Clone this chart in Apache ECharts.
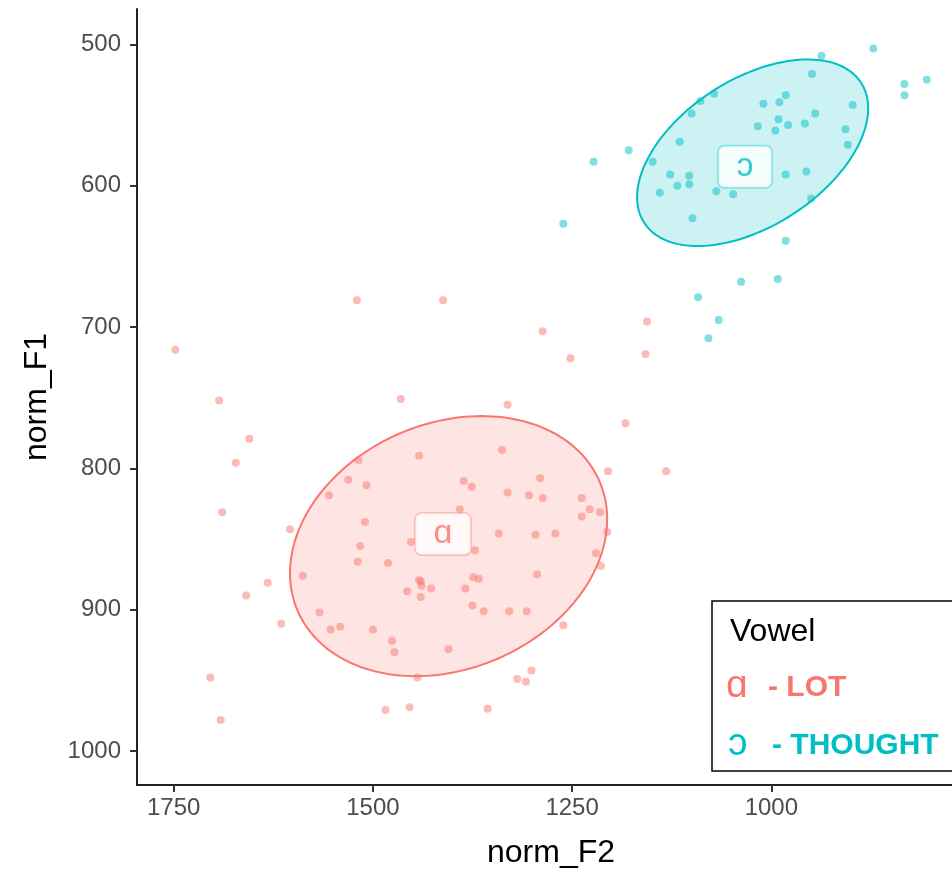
<!DOCTYPE html>
<html>
<head>
<meta charset="utf-8">
<script src="https://cdn.jsdelivr.net/npm/echarts@6/dist/echarts.min.js"></script>
<style>
  html, body { margin: 0; padding: 0; background: #ffffff; }
  #chart { width: 952px; height: 869px; }
</style>
</head>
<body>
<div id="chart"></div>
<script>
// Vowel categories
const vowelSymbols = ['ɑ', 'ɔ'];
const vowelWords = ['LOT', 'THOUGHT'];
const vowelColors = ['#F8766D', '#00BFC4'];

// LOT tokens (normalised F2, F1)
const lotF2 = [1748, 1520, 1412, 1287, 1252, 1693, 1465, 1331, 1183, 1655,
               1672, 1518, 1442, 1338, 1205, 1531, 1508, 1386, 1376, 1290,
               1331, 1304, 1287, 1238, 1555, 1228, 1238, 1215, 1689, 1391,
               1510, 1604, 1342, 1296, 1271, 1206, 1452, 1372, 1516, 1519,
               1481, 1220, 1214, 1588, 1632, 1659, 1440, 1439, 1427, 1457,
               1440, 1374, 1367, 1384, 1294, 1375, 1361, 1329, 1307, 1567,
               1615, 1553, 1541, 1500, 1476, 1473, 1405, 1261, 1444, 1301,
               1319, 1308, 1704, 1691, 1484, 1454, 1356, 1132, 1156, 1158, 1442];
const lotF1 = [716, 681, 681, 703, 722, 752, 751, 755, 768, 779,
               796, 794, 791, 787, 802, 808, 812, 809, 813, 807,
               817, 819, 821, 821, 819, 829, 834, 831, 831, 829,
               838, 843, 846, 847, 846, 845, 852, 858, 855, 866,
               867, 860, 869, 876, 881, 890, 880, 883, 885, 887,
               891, 877, 878, 885, 875, 897, 901, 901, 901, 902,
               910, 914, 912, 914, 922, 930, 928, 911, 948, 943,
               949, 951, 948, 978, 971, 969, 970, 802, 696, 719, 879];

// THOUGHT tokens (normalised F2, F1)
const thoughtF2 = [1223, 1179, 1261, 1115, 1149, 1127, 1103, 1103, 1118, 1140,
                   1069, 1048, 1099, 1089, 1072, 1100, 872, 937, 949, 833,
                   833, 805, 982, 990, 1010, 898, 945, 991, 1017, 995,
                   979, 958, 907, 904, 982, 956, 950, 982, 992, 1038,
                   1092, 1066, 1079];
const thoughtF1 = [583, 575, 627, 569, 583, 592, 593, 599, 600, 605,
                   604, 606, 623, 540, 535, 549, 503, 508, 521, 528,
                   536, 525, 536, 541, 542, 543, 549, 553, 558, 561,
                   557, 556, 560, 571, 592, 590, 609, 639, 666, 668,
                   679, 695, 708];

// Confidence ellipses: centre F2, centre F1, half-extent F2, half-extent F1, coupling
const lotEllipse = [1405, 855, 199, 92, 0.208];
const thoughtEllipse = [1023.5, 576.7, 145, 66, 0.476];

// Vowel means (label positions)
const lotMean = [1412, 846.5];
const thoughtMean = [1033, 586.6];

// Axis ticks
const xTicks = [1000, 1250, 1500, 1750];
const yTicks = [500, 600, 700, 800, 900, 1000];

const FONT = 'Liberation Sans, Arial, Helvetica, sans-serif';

function zip(a, b) { return a.map((v, i) => [v, b[i]]); }

function hexA(hex, a) {
  const n = parseInt(hex.slice(1), 16);
  return 'rgba(' + (n >> 16) + ',' + ((n >> 8) & 255) + ',' + (n & 255) + ',' + a + ')';
}

function ellipseRenderer(color) {
  return function (params, api) {
    const cx = api.value(0), cy = api.value(1);
    const sx = api.value(2), sy = api.value(3);
    const d = Math.acos(api.value(4));
    const pts = [];
    const n = 180;
    for (let i = 0; i < n; i++) {
      const t = i / n * Math.PI * 2;
      pts.push(api.coord([cx + sx * Math.cos(t), cy + sy * Math.cos(t - d)]));
    }
    return {
      type: 'polygon',
      shape: { points: pts },
      style: { fill: hexA(color, 0.2), stroke: color, lineWidth: 2 }
    };
  };
}

function pointSeries(name, data, color) {
  return {
    name: name, type: 'scatter', data: data, symbolSize: 8,
    itemStyle: { color: hexA(color, 0.62) }, z: 2, silent: true
  };
}

function ellipseSeries(params, color) {
  return {
    type: 'custom', data: [params], encode: { x: 0, y: 1 },
    renderItem: ellipseRenderer(color), z: 3, silent: true
  };
}

function labelSeries(mean, sym, color) {
  return {
    type: 'scatter', data: [[mean[0], mean[1], sym]], symbolSize: 0, z: 5, silent: true,
    label: {
      show: true, position: 'inside', formatter: p => p.value[2],
      fontFamily: FONT, fontSize: 34, color: color, lineHeight: 32,
      backgroundColor: '#ffffff', borderColor: hexA(color, 0.45), borderWidth: 1.5,
      borderRadius: 6, padding: [4, 18, 5, 18]
    }
  };
}

// Legend panel
const legendGraphics = [
  { type: 'rect', x: 712, y: 601, shape: { width: 270, height: 170 },
    style: { fill: '#ffffff', stroke: '#000000', lineWidth: 1.5 }, z: 100 },
  { type: 'text', x: 730, y: 632, z: 101,
    style: { text: 'Vowel', fontFamily: FONT, fontSize: 32, fill: '#000000', verticalAlign: 'middle' } }
];
vowelSymbols.forEach((s, i) => {
  const y = 688 + i * 58;
  legendGraphics.push({ type: 'text', x: 726 + i * 2, y: y - 2, z: 101,
    style: { text: s, fontFamily: FONT, fontSize: 39, fill: vowelColors[i], verticalAlign: 'middle' } });
  legendGraphics.push({ type: 'text', x: 768 + i * 4, y: y, z: 101,
    style: { text: '- ' + vowelWords[i], fontFamily: FONT, fontSize: 30, fontWeight: 'bold',
             fill: vowelColors[i], verticalAlign: 'middle' } });
});

const chart = echarts.init(document.getElementById('chart'), null, { renderer: 'canvas' });
chart.setOption({
  animation: false,
  backgroundColor: '#ffffff',
  grid: { left: 137, right: -13, top: 9, bottom: 84, containLabel: false, outerBoundsMode: 'none' },
  xAxis: {
    type: 'value', inverse: true, min: 757, max: 1796,
    name: 'norm_F2', nameLocation: 'middle', nameGap: 52,
    nameTextStyle: { fontFamily: FONT, fontSize: 32, color: '#000000' },
    axisLine: { show: true, onZero: false, lineStyle: { color: '#222222', width: 2 } },
    axisTick: { show: true, length: 7, customValues: xTicks, lineStyle: { color: '#333333', width: 2 } },
    axisLabel: { customValues: xTicks, formatter: v => String(v), fontFamily: FONT, fontSize: 24,
                 color: '#4D4D4D', margin: 11 },
    splitLine: { show: false }
  },
  yAxis: {
    type: 'value', inverse: true, min: 475, max: 1024,
    name: 'norm_F1', nameLocation: 'middle', nameGap: 84, nameRotate: 90,
    nameTextStyle: { fontFamily: FONT, fontSize: 32, color: '#000000' },
    axisLine: { show: true, onZero: false, lineStyle: { color: '#222222', width: 2 } },
    axisTick: { show: true, length: 7, customValues: yTicks, lineStyle: { color: '#333333', width: 2 } },
    axisLabel: { customValues: yTicks, formatter: v => String(v), fontFamily: FONT, fontSize: 24,
                 color: '#4D4D4D', margin: 16 },
    splitLine: { show: false }
  },
  series: [
    pointSeries(vowelWords[0], zip(lotF2, lotF1), vowelColors[0]),
    pointSeries(vowelWords[1], zip(thoughtF2, thoughtF1), vowelColors[1]),
    ellipseSeries(lotEllipse, vowelColors[0]),
    ellipseSeries(thoughtEllipse, vowelColors[1]),
    labelSeries(lotMean, vowelSymbols[0], vowelColors[0]),
    labelSeries(thoughtMean, vowelSymbols[1], vowelColors[1])
  ],
  graphic: legendGraphics
});
</script>
</body>
</html>
